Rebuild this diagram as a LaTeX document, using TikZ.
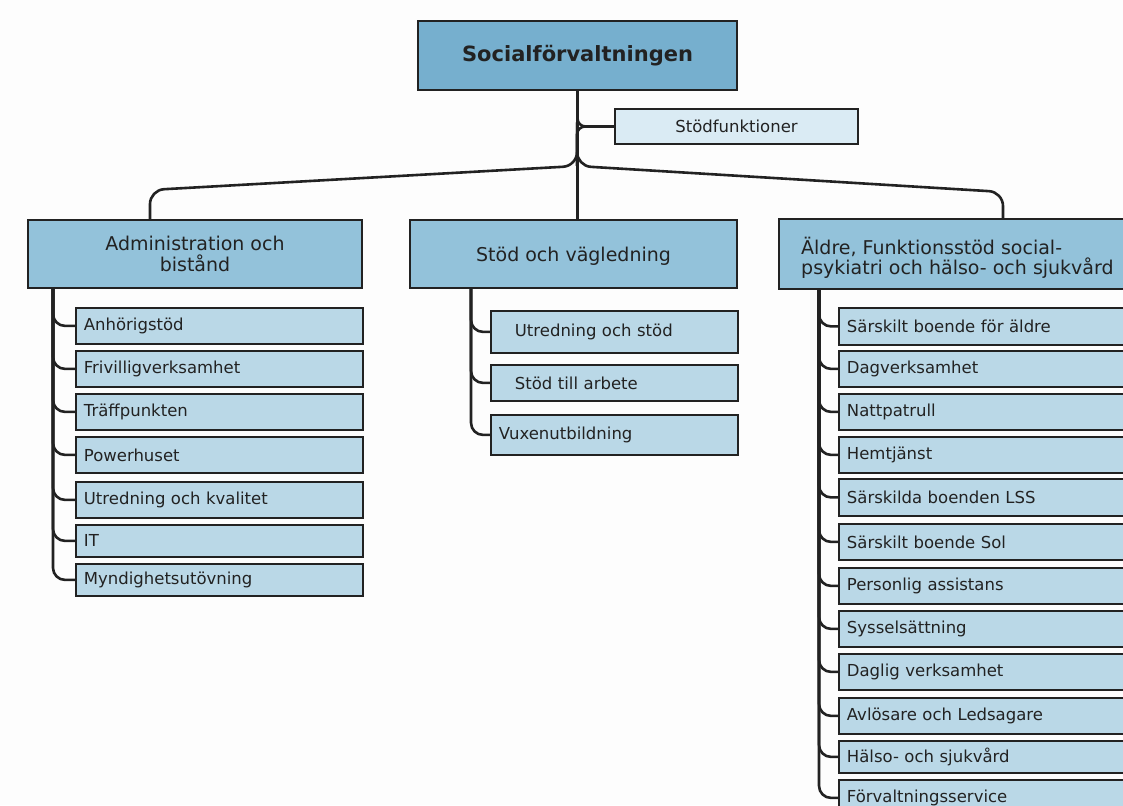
\documentclass[tikz,border=0pt]{standalone}
\usepackage{fontspec}
\setmainfont{DejaVu Sans}
\definecolor{linec}{HTML}{222222}
\definecolor{topc}{HTML}{76AFCE}
\definecolor{midc}{HTML}{93C2DA}
\definecolor{kidc}{HTML}{BAD8E7}
\definecolor{supc}{HTML}{DAEBF4}
\definecolor{txtc}{HTML}{222222}
\definecolor{bgc}{HTML}{FDFDFD}
\begin{document}
\begin{tikzpicture}[x=1pt,y=-1pt,
  box/.style={draw=linec, line width=1.8pt, rectangle, inner sep=0pt, text=txtc},
  topbox/.style={box, fill=topc, font=\bfseries\fontsize{21}{24}\selectfont},
  lvlbox/.style={box, fill=midc, font=\fontsize{19}{21}\selectfont},
  supbox/.style={box, fill=supc, font=\fontsize{16.5}{19}\selectfont},
  kid/.style={box, fill=kidc, anchor=north west, inner xsep=8pt, align=left, font=\fontsize{16.5}{19}\selectfont},
  conn/.style={draw=linec, line width=2.6pt, rounded corners=12pt}]
\useasboundingbox (0,0) rectangle (1123,805);
\fill[bgc] (0,0) rectangle (1123,805);
\clip (0,0) rectangle (1123,805);

% top level
\node[topbox, minimum width=319, minimum height=69] (top) at (577.5,55.5) {Socialförvaltningen};
\node[supbox, minimum width=243, minimum height=35] (sup) at (736.5,126.5) {Stödfunktioner};

% second level
\node[lvlbox, minimum width=334, minimum height=68, align=center] (adm) at (195,254) {Administration och\\bistånd};
\node[lvlbox, minimum width=327, minimum height=68, text depth=0pt] (mid) at (573.5,254) {Stöd och vägledning};
\node[lvlbox, minimum width=362, minimum height=70, anchor=north west, inner xsep=0pt] (ald) at (778,218) {};
\node[anchor=west, inner sep=0pt, align=left, text=txtc, font=\fontsize{19}{18}\selectfont] (aldt) at (801,258) {Äldre, Funktionsstöd social-\\psykiatri och hälso- och sjukvård};

% connectors from top
\coordinate (jn) at (577,166);
\coordinate (lc) at (150,190);
\coordinate (rc) at (1003,192);
\draw[conn, rounded corners=8pt] (top.south) |- (sup.west);
\draw[conn, rounded corners=8pt] (jn) |- (sup.west);
\draw[conn, rounded corners=14pt] (top.south) -- (jn) -- (lc) -- (adm.north -| lc);
\draw[conn, rounded corners=14pt] (top.south) -- (jn) -- (rc) -- (ald.north -| rc);
\draw[conn] (top.south) -- (mid.north -| top.south);

% admin children
\node[kid, text width=271, minimum height=36] (a1) at (75,307) {Anhörigstöd};
\node[kid, text width=271, minimum height=36] (a2) at (75,350) {Frivilligverksamhet};
\node[kid, text width=271, minimum height=36] (a3) at (75,393) {Träffpunkten};
\node[kid, text width=271, minimum height=36] (a4) at (75,436) {Powerhuset};
\node[kid, text width=271, minimum height=36] (a5) at (75,481) {Utredning och kvalitet};
\node[kid, text width=271, minimum height=32] (a6) at (75,524) {IT};
\node[kid, text width=271, minimum height=32] (a7) at (75,563) {Myndighetsutövning};
\coordinate (ab) at (53,288);
\foreach \k in {a1,a2,a3,a4,a5,a6,a7} \draw[conn] (ab) |- (\k.west);

% stöd children
\node[kid, text width=231, minimum height=42] (s1) at (490,310) {\hspace{16pt}Utredning och stöd};
\node[kid, text width=231, minimum height=36] (s2) at (490,364) {\hspace{16pt}Stöd till arbete};
\node[kid, text width=231, minimum height=40] (s3) at (490,414) {Vuxenutbildning};
\coordinate (sb) at (471,288);
\foreach \k in {s1,s2,s3} \draw[conn] (sb) |- (\k.west);

% äldre children
\node[kid, text width=281, minimum height=37] (e1) at (838,307) {Särskilt boende för äldre};
\node[kid, text width=281, minimum height=36] (e2) at (838,350) {Dagverksamhet};
\node[kid, text width=281, minimum height=36] (e3) at (838,393) {Nattpatrull};
\node[kid, text width=281, minimum height=36] (e4) at (838,436) {Hemtjänst};
\node[kid, text width=281, minimum height=37] (e5) at (838,478) {Särskilda boenden LSS};
\node[kid, text width=281, minimum height=36] (e6) at (838,523) {Särskilt boende Sol};
\node[kid, text width=281, minimum height=36] (e7) at (838,567) {Personlig assistans};
\node[kid, text width=281, minimum height=36] (e8) at (838,610) {Sysselsättning};
\node[kid, text width=281, minimum height=36] (e9) at (838,653) {Daglig verksamhet};
\node[kid, text width=281, minimum height=36] (e10) at (838,697) {Avlösare och Ledsagare};
\node[kid, text width=281, minimum height=32] (e11) at (838,740) {Hälso- och sjukvård};
\node[kid, text width=281, minimum height=36] (e12) at (838,779) {Förvaltningsservice};
\coordinate (eb) at (819,288);
\foreach \k in {e1,e2,e3,e4,e5,e6,e7,e8,e9,e10,e11,e12} \draw[conn] (eb) |- (\k.west);
\end{tikzpicture}
\end{document}
